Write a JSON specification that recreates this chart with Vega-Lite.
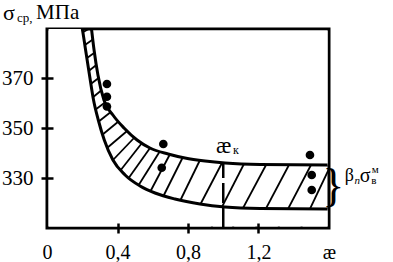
{
  "$schema": "https://vega.github.io/schema/vega-lite/v6.json",
  "autosize": "none",
  "width": 282,
  "height": 199,
  "padding": {"left": 47, "top": 29, "right": 64, "bottom": 34},
  "background": "white",
  "config": {
    "view": {"stroke": "black", "strokeWidth": 3},
    "font": "Liberation Serif"
  },
  "datasets": {
    "one": [{}],
    "hatch": [
      {"x": 0.166, "y": 386.8, "x2": 0.285, "y2": 391.6},
      {"x": 0.179, "y": 381.4, "x2": 0.292, "y2": 387.0},
      {"x": 0.190, "y": 376.2, "x2": 0.304, "y2": 381.8},
      {"x": 0.201, "y": 370.8, "x2": 0.315, "y2": 377.2},
      {"x": 0.211, "y": 365.6, "x2": 0.330, "y2": 372.0},
      {"x": 0.224, "y": 360.2, "x2": 0.349, "y2": 367.4},
      {"x": 0.238, "y": 355.4, "x2": 0.374, "y2": 362.6},
      {"x": 0.250, "y": 350.2, "x2": 0.409, "y2": 359.0},
      {"x": 0.264, "y": 344.4, "x2": 0.457, "y2": 355.6},
      {"x": 0.284, "y": 338.6, "x2": 0.511, "y2": 352.2},
      {"x": 0.315, "y": 332.8, "x2": 0.553, "y2": 350.4},
      {"x": 0.352, "y": 327.2, "x2": 0.601, "y2": 349.6},
      {"x": 0.397, "y": 323.4, "x2": 0.647, "y2": 348.2},
      {"x": 0.454, "y": 319.8, "x2": 0.704, "y2": 347.8},
      {"x": 0.528, "y": 316.8, "x2": 0.755, "y2": 347.2},
      {"x": 0.601, "y": 314.4, "x2": 0.828, "y2": 346.4},
      {"x": 0.698, "y": 312.6, "x2": 0.925, "y2": 345.4},
      {"x": 0.806, "y": 310.8, "x2": 1.055, "y2": 344.4},
      {"x": 0.930, "y": 309.8, "x2": 1.180, "y2": 344.2},
      {"x": 1.047, "y": 309.4, "x2": 1.308, "y2": 343.8},
      {"x": 1.177, "y": 309.1, "x2": 1.438, "y2": 343.9},
      {"x": 1.302, "y": 308.8, "x2": 1.563, "y2": 344.0},
      {"x": 1.435, "y": 309.2, "x2": 1.662, "y2": 342.8}
    ],
    "lower": [
      {"x": 0.009, "y": 420},
      {"x": 0.196, "y": 391.2},
      {"x": 0.219, "y": 381.2},
      {"x": 0.241, "y": 371.2},
      {"x": 0.264, "y": 361.2},
      {"x": 0.291, "y": 353.2},
      {"x": 0.325, "y": 345.2},
      {"x": 0.374, "y": 337.2},
      {"x": 0.443, "y": 331.2},
      {"x": 0.528, "y": 326.8},
      {"x": 0.613, "y": 324.0},
      {"x": 0.726, "y": 321.6},
      {"x": 0.868, "y": 319.6},
      {"x": 1.01, "y": 318.4},
      {"x": 1.209, "y": 317.8},
      {"x": 1.592, "y": 317.6}
    ],
    "upper": [
      {"x": 0.25, "y": 391.2},
      {"x": 0.267, "y": 381.2},
      {"x": 0.289, "y": 371.2},
      {"x": 0.323, "y": 361.2},
      {"x": 0.374, "y": 355.2},
      {"x": 0.437, "y": 350.0},
      {"x": 0.511, "y": 345.2},
      {"x": 0.584, "y": 342.0},
      {"x": 0.687, "y": 339.6},
      {"x": 0.783, "y": 338.0},
      {"x": 0.897, "y": 336.8},
      {"x": 1.01, "y": 336.0},
      {"x": 1.209, "y": 335.4},
      {"x": 1.592, "y": 335.2}
    ],
    "points": [
      {"x": 0.34, "y": 367.6},
      {"x": 0.34, "y": 362.5},
      {"x": 0.34, "y": 358.6},
      {"x": 0.66, "y": 343.6},
      {"x": 0.651, "y": 334.1},
      {"x": 1.492, "y": 339.2},
      {"x": 1.502, "y": 331.2},
      {"x": 1.502, "y": 325.2}
    ]
  },
  "layer": [
    {
      "data": {"name": "hatch"},
      "mark": {"type": "rule", "clip": true, "color": "black", "strokeWidth": 1.8},
      "encoding": {
        "x": {
          "field": "x", "type": "quantitative",
          "scale": {"domain": [0, 1.6], "nice": false, "zero": false},
          "axis": {
            "values": [0, 0.4, 0.8, 1.2, 1.6],
            "domain": false, "grid": false, "title": null,
            "offset": -5, "tickSize": 10, "tickWidth": 2.5,
            "tickColor": {"condition": {"test": "datum.value == 0 || datum.value == 1.6", "value": "transparent"}, "value": "black"},
            "labelExpr": "datum.value == 1.6 ? 'æ' : replace(format(datum.value, '.1~f'), '.', ',')",
            "labelFont": "Liberation Serif", "labelFontSize": 20, "labelColor": "black",
            "labelPadding": 9, "labelFlush": false, "labelOverlap": false, "labelBound": false,
            "zindex": 1
          }
        },
        "y": {
          "field": "y", "type": "quantitative",
          "scale": {"domain": [310, 389.6], "nice": false, "zero": false},
          "axis": {
            "values": [330, 350, 370],
            "domain": false, "grid": false, "title": null,
            "offset": -6, "tickSize": 12, "tickWidth": 2.5, "tickColor": "black",
            "labelFont": "Liberation Serif", "labelFontSize": 21, "labelColor": "black",
            "labelPadding": 8, "labelOverlap": false, "labelBound": false,
            "zindex": 1
          }
        },
        "x2": {"field": "x2"},
        "y2": {"field": "y2"}
      }
    },
    {
      "data": {"name": "lower"},
      "mark": {"type": "area", "clip": true, "color": "white", "interpolate": "monotone", "opacity": 1},
      "encoding": {
        "x": {"field": "x", "type": "quantitative", "title": null},
        "y": {"field": "y", "type": "quantitative", "title": null},
        "y2": {"datum": 310.6}
      }
    },
    {
      "data": {"name": "upper"},
      "mark": {"type": "area", "clip": true, "color": "white", "interpolate": "monotone", "opacity": 1},
      "encoding": {
        "x": {"field": "x", "type": "quantitative", "title": null},
        "y": {"field": "y", "type": "quantitative", "title": null},
        "y2": {"datum": 389.0}
      }
    },
    {
      "data": {"name": "lower"},
      "mark": {"type": "line", "clip": true, "color": "black", "strokeWidth": 3, "interpolate": "monotone"},
      "encoding": {
        "x": {"field": "x", "type": "quantitative", "title": null},
        "y": {"field": "y", "type": "quantitative", "title": null}
      }
    },
    {
      "data": {"name": "upper"},
      "mark": {"type": "line", "clip": true, "color": "black", "strokeWidth": 3, "interpolate": "monotone"},
      "encoding": {
        "x": {"field": "x", "type": "quantitative", "title": null},
        "y": {"field": "y", "type": "quantitative", "title": null}
      }
    },
    {
      "data": {"name": "one"},
      "mark": {"type": "rule", "color": "black", "strokeWidth": 2.5, "strokeDash": [20, 5]},
      "encoding": {
        "x": {"datum": 1.0},
        "y": {"datum": 310},
        "y2": {"datum": 336.0}
      }
    },
    {
      "data": {"name": "points"},
      "mark": {"type": "circle", "color": "black", "opacity": 1, "size": 75},
      "encoding": {
        "x": {"field": "x", "type": "quantitative", "title": null},
        "y": {"field": "y", "type": "quantitative", "title": null}
      }
    },
    {
      "data": {"name": "one"},
      "mark": {"type": "text", "align": "left", "baseline": "alphabetic", "fontSize": 22, "color": "black"},
      "encoding": {"x": {"datum": -0.25}, "y": {"datum": 393.2}, "text": {"value": "σ"}}
    },
    {
      "data": {"name": "one"},
      "mark": {"type": "text", "align": "left", "baseline": "alphabetic", "fontSize": 13, "color": "black"},
      "encoding": {"x": {"datum": -0.17}, "y": {"datum": 392.6}, "text": {"value": "ср,"}}
    },
    {
      "data": {"name": "one"},
      "mark": {"type": "text", "align": "left", "baseline": "alphabetic", "fontSize": 21, "color": "black"},
      "encoding": {"x": {"datum": -0.062}, "y": {"datum": 393.6}, "text": {"value": "МПа"}}
    },
    {
      "data": {"name": "one"},
      "mark": {"type": "text", "align": "left", "baseline": "alphabetic", "fontSize": 23, "color": "black"},
      "encoding": {"x": {"datum": 0.959}, "y": {"datum": 340.2}, "text": {"value": "æ"}}
    },
    {
      "data": {"name": "one"},
      "mark": {"type": "text", "align": "left", "baseline": "alphabetic", "fontSize": 12, "color": "black"},
      "encoding": {"x": {"datum": 1.055}, "y": {"datum": 339.8}, "text": {"value": "к"}}
    },
    {
      "data": {"name": "one"},
      "mark": {"type": "text", "align": "center", "baseline": "middle", "fontSize": 46, "color": "black"},
      "encoding": {"x": {"datum": 1.625}, "y": {"datum": 326.4}, "text": {"value": "}"}}
    },
    {
      "data": {"name": "one"},
      "mark": {"type": "text", "align": "left", "baseline": "alphabetic", "fontSize": 18, "color": "black"},
      "encoding": {"x": {"datum": 1.69}, "y": {"datum": 328.8}, "text": {"value": "β"}}
    },
    {
      "data": {"name": "one"},
      "mark": {"type": "text", "align": "left", "baseline": "alphabetic", "fontSize": 11, "fontStyle": "italic", "color": "black"},
      "encoding": {"x": {"datum": 1.745}, "y": {"datum": 327.6}, "text": {"value": "n"}}
    },
    {
      "data": {"name": "one"},
      "mark": {"type": "text", "align": "left", "baseline": "alphabetic", "fontSize": 20, "color": "black"},
      "encoding": {"x": {"datum": 1.775}, "y": {"datum": 328.4}, "text": {"value": "σ"}}
    },
    {
      "data": {"name": "one"},
      "mark": {"type": "text", "align": "left", "baseline": "alphabetic", "fontSize": 11, "color": "black"},
      "encoding": {"x": {"datum": 1.84}, "y": {"datum": 327.6}, "text": {"value": "в"}}
    },
    {
      "data": {"name": "one"},
      "mark": {"type": "text", "align": "left", "baseline": "alphabetic", "fontSize": 11, "color": "black"},
      "encoding": {"x": {"datum": 1.843}, "y": {"datum": 332}, "text": {"value": "м"}}
    }
  ]
}
